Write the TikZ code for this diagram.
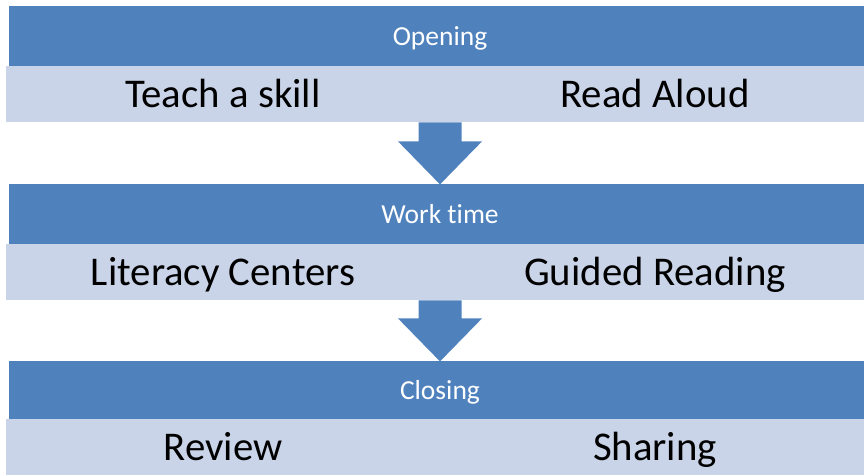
\documentclass[tikz,border=0pt]{standalone}
\usepackage{fontspec}
\setmainfont[Ligatures=CommonOff]{Carlito}
\definecolor{barblue}{HTML}{4F81BD}
\definecolor{bandblue}{HTML}{CAD4E8}
\begin{document}
\begin{tikzpicture}[x=1pt,y=-1pt,
  headbar/.style={fill=barblue, draw=none, inner sep=0pt, minimum width=855pt, minimum height=60pt, anchor=north west},
  band/.style={fill=bandblue, draw=none, inner sep=0pt, minimum width=858pt, minimum height=56pt, anchor=north west},
  headtext/.style={text=white, font=\fontsize{27.5}{30}\selectfont, inner sep=0pt, anchor=base},
  itemtext/.style={text=black, font=\fontsize{40.8}{44}\selectfont, inner sep=0pt, anchor=base},
  flowarrow/.style={fill=barblue, draw=none}]
\useasboundingbox (0,0) rectangle (864,475);

% stage bars and their activity bands
\node[headbar] (open)  at (9,6)   {};
\node[band]    (band1) at (6,66)  {};
\node[headbar] (work)  at (9,184) {};
\node[band]    (band2) at (6,244) {};
\node[headbar, minimum height=58pt] (close) at (9,361) {};
\node[band]    (band3) at (6,419) {};

% labels
\node[headtext] (openlbl)  at (440,45)  {Opening};
\node[itemtext] (teach)    at (223,107) {Teach a skill};
\node[itemtext] (aloud)    at (655,107) {Read Aloud};
\node[headtext] (worklbl)  at (440,223) {Work time};
\node[itemtext] (centers)  at (223,285) {Literacy Centers};
\node[itemtext] (guided)   at (655,285) {Guided Reading};
\node[headtext] (closelbl) at (440,399) {Closing};
\node[itemtext] (review)   at (223,460) {Review};
\node[itemtext] (sharing)  at (655,460) {Sharing};

% down arrows between stages
\coordinate (ax) at (440,0);
\fill[flowarrow, shift={(ax |- band1.south)}]
  (-21.5,0) -- (-21.5,19) -- (-42,19) -- (0,62) -- (42,19) -- (21.5,19) -- (21.5,0) -- cycle;
\fill[flowarrow, shift={(ax |- band2.south)}]
  (-21.5,0) -- (-21.5,18) -- (-42,18) -- (0,61) -- (42,18) -- (21.5,18) -- (21.5,0) -- cycle;
\end{tikzpicture}
\end{document}
